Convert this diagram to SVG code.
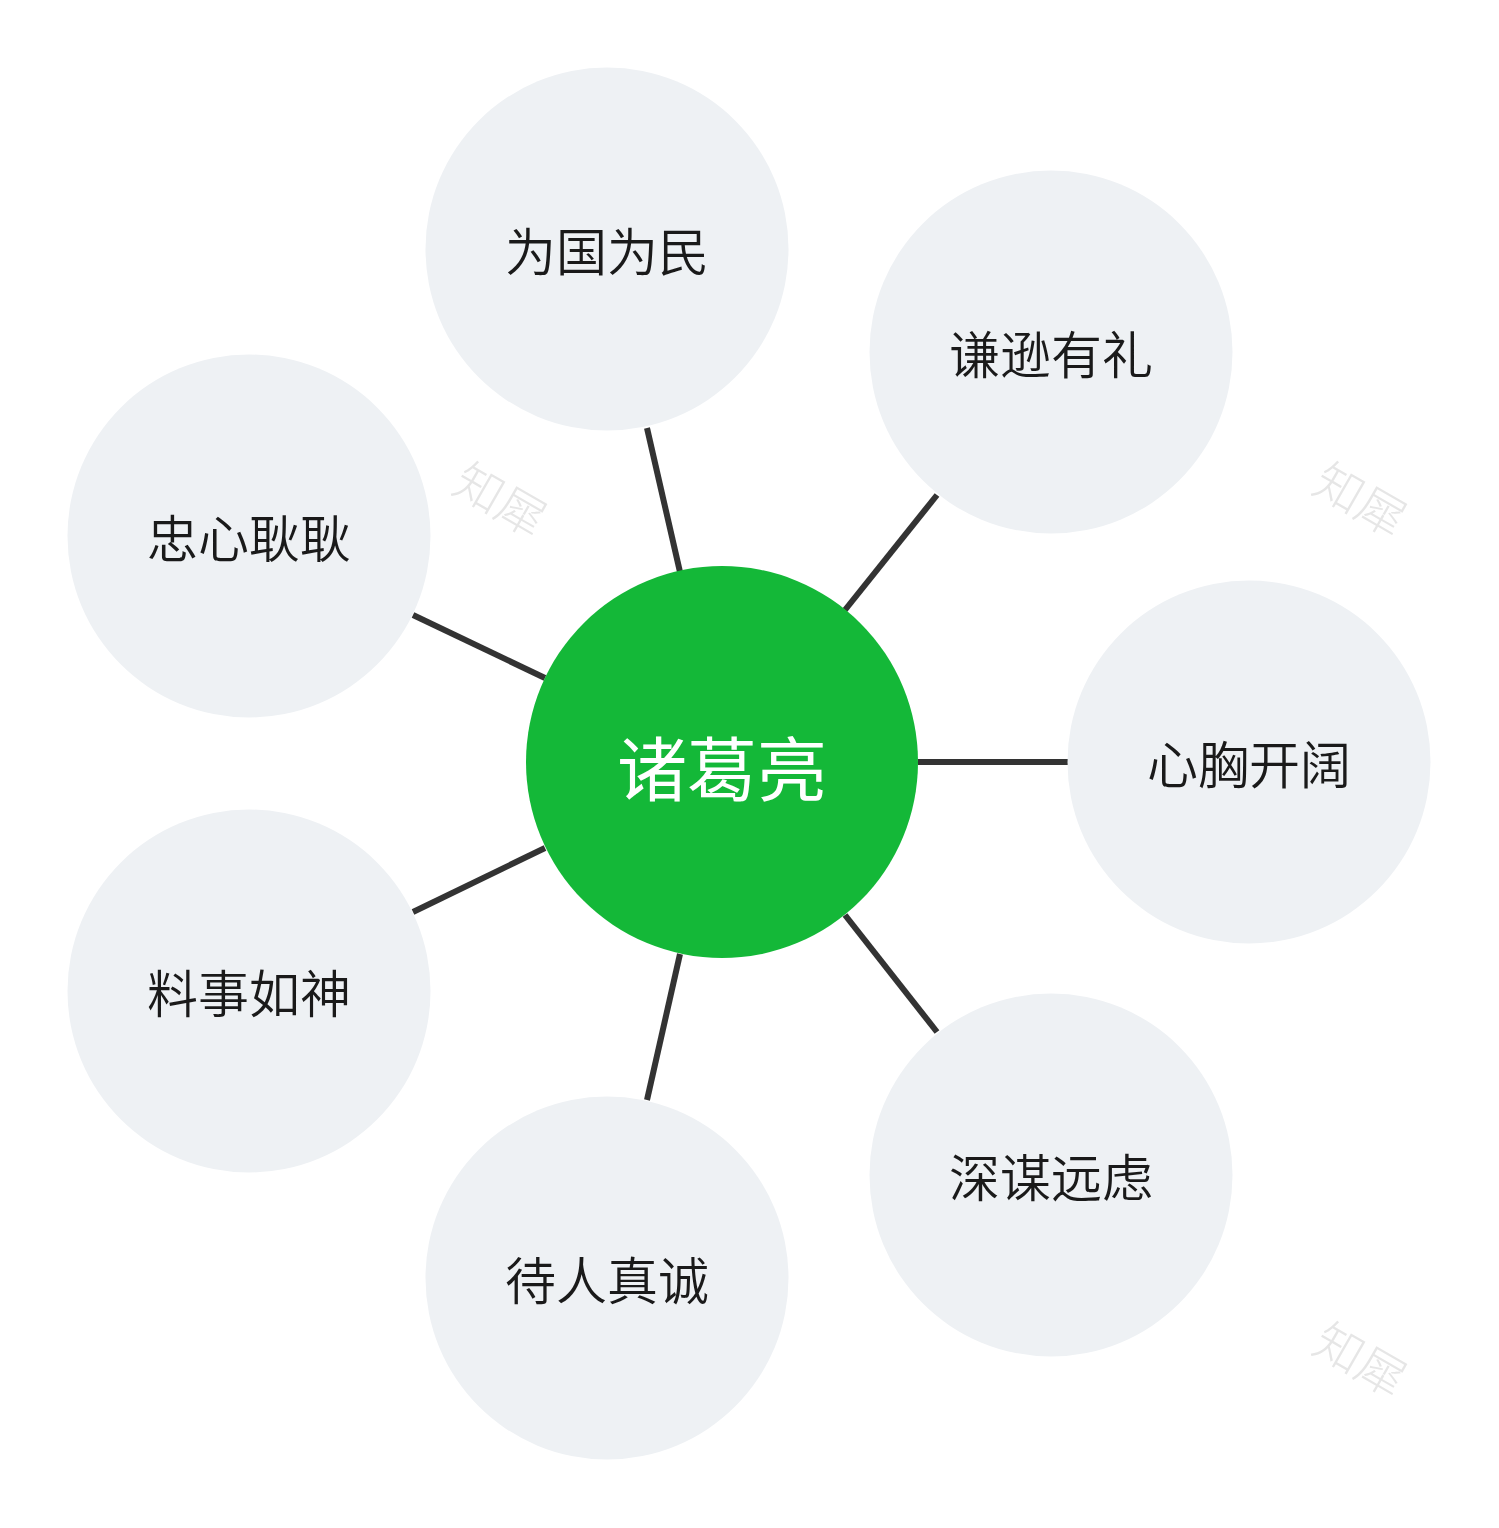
<svg xmlns="http://www.w3.org/2000/svg" width="1499" height="1528" viewBox="0 0 1499 1528">
<style>
.sat{fill:#eef1f4}
.lbl{font-family:"Noto Sans CJK SC","Noto Sans",sans-serif;font-size:51px;fill:#1a1a1a;text-anchor:middle;dominant-baseline:central;font-weight:350}
.ctr{font-family:"Noto Sans CJK SC","Noto Sans",sans-serif;font-size:70px;fill:#ffffff;text-anchor:middle;dominant-baseline:central;font-weight:400}
.wm{font-family:"Noto Sans CJK SC","Noto Sans",sans-serif;font-size:48px;fill:#e6e6e6;text-anchor:middle;dominant-baseline:central;font-weight:300}
.ln{stroke:#333333;stroke-width:6;fill:none}
</style>
<rect width="1499" height="1528" fill="#ffffff"/>
<g id="watermarks">
<text class="wm" transform="translate(502,497) rotate(30)">知犀</text>
<text class="wm" transform="translate(1362,497) rotate(30)">知犀</text>
<text class="wm" transform="translate(1362,1357) rotate(30)">知犀</text>
</g>
<g id="connectors">
<line class="ln" x1="680" y1="572" x2="647" y2="428"/>
<line class="ln" x1="845" y1="610" x2="937" y2="495"/>
<line class="ln" x1="918" y1="762" x2="1068" y2="762"/>
<line class="ln" x1="845" y1="915" x2="937" y2="1032"/>
<line class="ln" x1="680" y1="954" x2="647" y2="1100"/>
<line class="ln" x1="545" y1="848" x2="413" y2="912"/>
<line class="ln" x1="545" y1="678" x2="413" y2="615"/>
</g>
<g id="center">
<circle cx="722" cy="762" r="196" fill="#14b838"/>
<text class="ctr" x="722" y="765">诸葛亮</text>
</g>
<g id="n1"><circle class="sat" cx="607" cy="249" r="181.5"/><text class="lbl" x="607" y="249">为国为民</text></g>
<g id="n2"><circle class="sat" cx="1051" cy="352" r="181.5"/><text class="lbl" x="1051" y="352">谦逊有礼</text></g>
<g id="n3"><circle class="sat" cx="1249" cy="762" r="181.5"/><text class="lbl" x="1249" y="762">心胸开阔</text></g>
<g id="n4"><circle class="sat" cx="1051" cy="1175" r="181.5"/><text class="lbl" x="1051" y="1175">深谋远虑</text></g>
<g id="n5"><circle class="sat" cx="607" cy="1278" r="181.5"/><text class="lbl" x="607" y="1278">待人真诚</text></g>
<g id="n6"><circle class="sat" cx="249" cy="991" r="181.5"/><text class="lbl" x="249" y="991">料事如神</text></g>
<g id="n7"><circle class="sat" cx="249" cy="536" r="181.5"/><text class="lbl" x="249" y="536">忠心耿耿</text></g>
</svg>
